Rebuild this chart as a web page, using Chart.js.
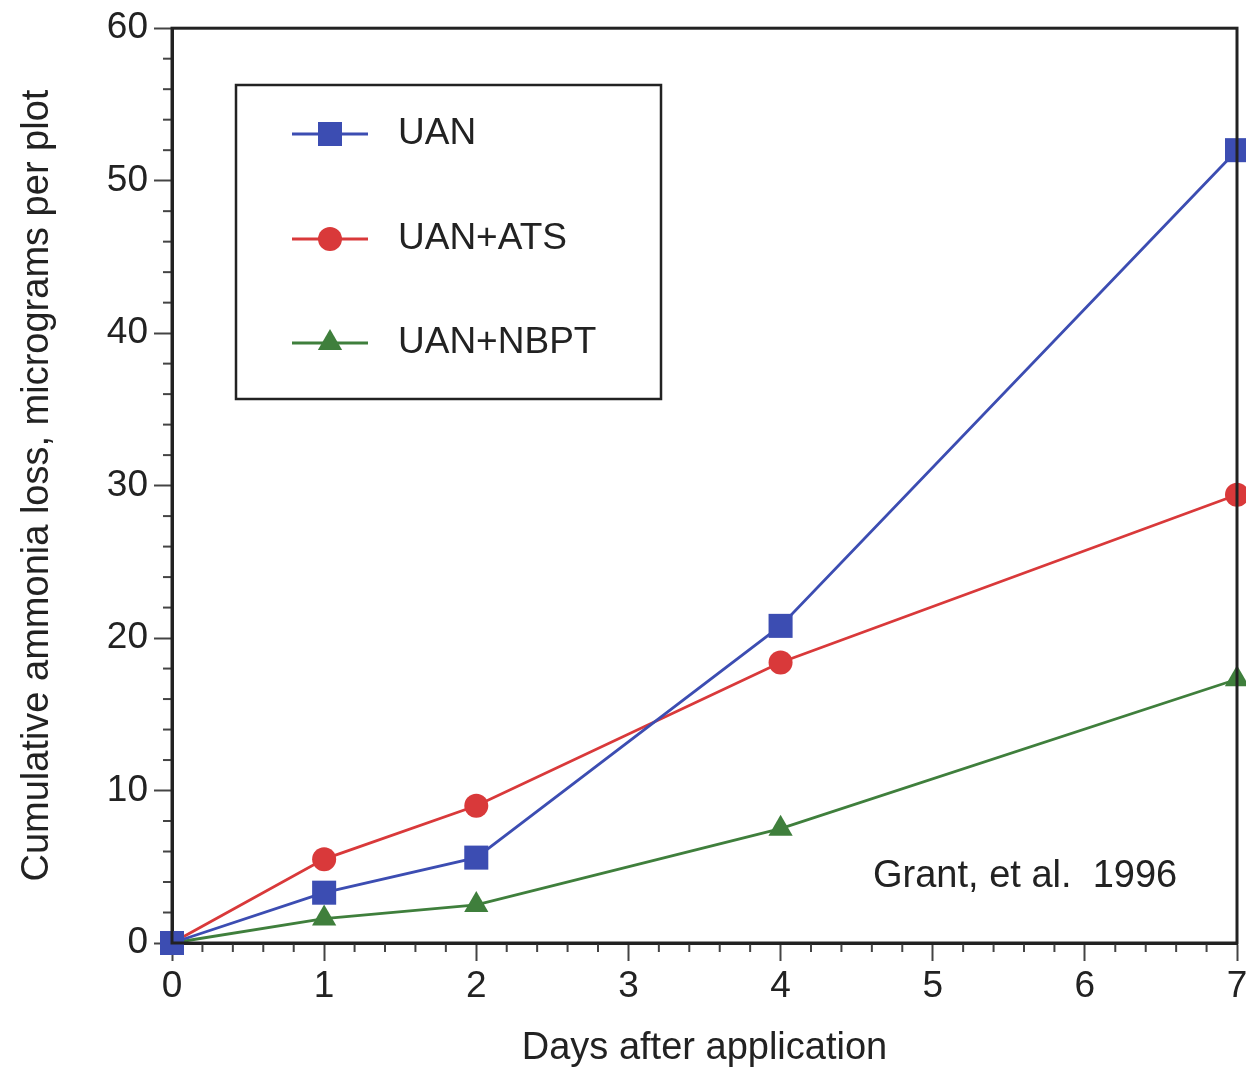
<!DOCTYPE html>
<html>
<head>
<meta charset="UTF-8">
<title>Cumulative ammonia loss</title>
<script src="https://cdn.jsdelivr.net/npm/chart.js"></script>
<style>
html, body { margin: 0; padding: 0; background: #fff; }
#wrap { width: 1246px; height: 1071px; }
</style>
</head>
<body>
<div id="wrap"><canvas id="chart" width="1246" height="1071"></canvas></div>
<script>
// Data
const days      = [0, 1, 2, 4, 7];
const uan       = [0, 3.3, 5.6, 20.8, 52.0];
const uanAts    = [0, 5.5, 9.0, 18.4, 29.4];
const uanNbpt   = [0, 1.6, 2.5, 7.5, 17.3];
const seriesNames = ['UAN', 'UAN+ATS', 'UAN+NBPT'];
const noteText  = 'Grant, et al.  1996';

const FONT = '"Liberation Sans", Arial, Helvetica, sans-serif';
const toPoints = (vals) => vals.map((v, i) => ({x: days[i], y: v}));

// Minor ticks, plot frame, legend box and citation text
const decorPlugin = {
    id: 'decor',
    afterDraw(chart) {
        const {ctx, chartArea: a, scales: {x, y}} = chart;
        ctx.save();
        ctx.strokeStyle = '#444';
        ctx.lineWidth   = 2;
        // minor ticks on x (every 0.2 day)
        for (let i = 0; i <= 35; i++) {
            if (i % 5 === 0) continue;
            const px = x.getPixelForValue(i / 5);
            ctx.beginPath();
            ctx.moveTo(px, a.bottom);
            ctx.lineTo(px, a.bottom + 9);
            ctx.stroke();
        }
        // minor ticks on y (every 2)
        for (let v = 0; v <= 60; v += 2) {
            if (v % 10 === 0) continue;
            const py = y.getPixelForValue(v);
            ctx.beginPath();
            ctx.moveTo(a.left, py);
            ctx.lineTo(a.left - 9, py);
            ctx.stroke();
        }
        // frame
        ctx.strokeStyle = '#222';
        ctx.lineWidth   = 3;
        ctx.strokeRect(a.left, a.top, a.right - a.left, a.bottom - a.top);

        // legend box
        const lx = 236, ly = 85, lw = 425, lh = 314;
        ctx.lineWidth = 2.5;
        ctx.fillStyle = '#fff';
        ctx.fillRect(lx, ly, lw, lh);
        ctx.strokeRect(lx, ly, lw, lh);
        const rows = [134, 239, 343];
        chart.data.datasets.forEach((ds, i) => {
            const yy = rows[i];
            ctx.strokeStyle = ds.borderColor;
            ctx.lineWidth   = 2.8;
            ctx.beginPath();
            ctx.moveTo(292, yy);
            ctx.lineTo(368, yy);
            ctx.stroke();
            ctx.fillStyle = ds.backgroundColor;
            Chart.helpers.drawPoint(ctx, {pointStyle: ds.pointStyle, radius: ds.pointRadius, borderWidth: 0, rotation: 0}, 330, yy);
            ctx.fillStyle    = '#222';
            ctx.font         = '37px ' + FONT;
            ctx.textAlign    = 'left';
            ctx.textBaseline = 'middle';
            ctx.fillText(ds.label, 398, yy);
        });

        // citation
        ctx.fillStyle    = '#222';
        ctx.font         = '38px ' + FONT;
        ctx.textAlign    = 'left';
        ctx.textBaseline = 'middle';
        ctx.fillText(noteText, 873, 877);
        ctx.restore();
    }
};

const makeSet = (label, vals, color, style, radius) => ({
    label,
    data: toPoints(vals),
    borderColor: color,
    backgroundColor: color,
    borderWidth: 2.8,
    pointStyle: style,
    pointRadius: radius,
    pointBorderWidth: 0,
    pointHoverRadius: radius,
    clip: false,
    tension: 0,
    showLine: true,
});

new Chart(document.getElementById('chart'), {
    type: 'scatter',
    data: {
        datasets: [
            makeSet(seriesNames[0], uan, '#3c4db2', 'rect', 17),
            makeSet(seriesNames[1], uanAts, '#d9393a', 'circle', 12),
            makeSet(seriesNames[2], uanNbpt, '#3f7f3c', 'triangle', 14),
        ]
    },
    options: {
        responsive: false,
        animation: false,
        layout: {autoPadding: false, padding: {top: 27, right: 9, left: 0, bottom: 0}},
        plugins: {legend: {display: false}, tooltip: {enabled: false}},
        scales: {
            x: {
                type: 'linear',
                min: 0,
                max: 7,
                afterFit: (s) => { s.height = 128; s.paddingRight = 0; s.paddingLeft = 0; },
                ticks: {stepSize: 1, color: '#222', font: {family: FONT, size: 37}, padding: 4},
                grid: {drawOnChartArea: false, tickLength: 18, tickColor: '#444', tickWidth: 2},
                border: {color: '#222', width: 3},
                title: {display: true, text: 'Days after application', color: '#222', font: {family: FONT, size: 38}, padding: {top: 14, bottom: 0}},
            },
            y: {
                type: 'linear',
                min: 0,
                max: 60,
                afterFit: (s) => { s.width = 172; },
                ticks: {stepSize: 10, color: '#222', font: {family: FONT, size: 37}, padding: 6},
                grid: {drawOnChartArea: false, tickLength: 18, tickColor: '#444', tickWidth: 2},
                border: {color: '#222', width: 3},
                title: {display: true, text: 'Cumulative ammonia loss, micrograms per plot', color: '#222', font: {family: FONT, size: 38}, padding: {top: 15, bottom: 0}},
            }
        }
    },
    plugins: [decorPlugin]
});
</script>
</body>
</html>
